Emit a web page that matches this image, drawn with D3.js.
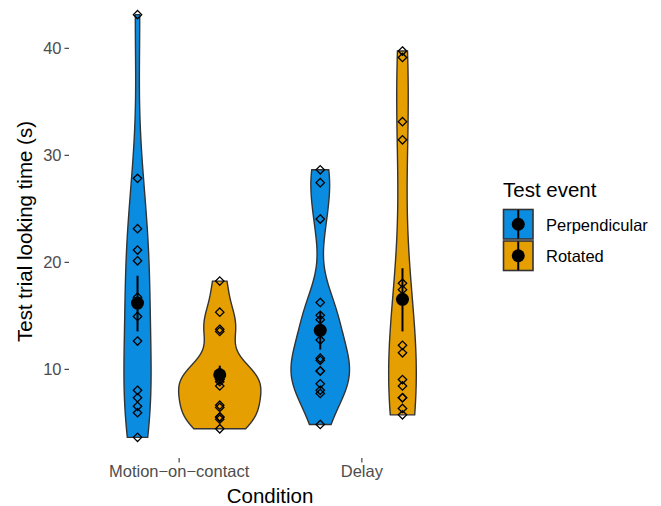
<!DOCTYPE html>
<html>
<head>
<meta charset="utf-8">
<script src="https://cdn.jsdelivr.net/npm/d3@7"></script>
<style>
  body { margin: 0; background: #fff; }
  svg { font-family: "Liberation Sans", Arial, sans-serif; }
</style>
</head>
<body>
<svg id="chart" width="661" height="506"></svg>
<script>
var conditions = ["Motion\u2212on\u2212contact", "Delay"];
var events = ["Perpendicular", "Rotated"];
var colors = ["#0a8ce0", "#e69f00"];

// individual looking times (s) (some points overlap)
var mocPerp = [43.1, 27.8, 23.1, 21.1, 20.1, 16.7, 14.9, 12.6, 8.0, 7.3, 6.5, 5.9, 3.6];
var mocRot = [18.2, 15.3, 13.7, 13.5, 9.7, 9.4, 9.0, 9.0, 8.8, 8.4, 6.6, 6.4, 5.5, 5.5, 5.3, 4.4];
var delayPerp = [28.6, 27.4, 24.0, 16.2, 15.0, 14.6, 12.7, 11.0, 10.8, 9.8, 9.8, 8.6, 8.0, 7.7, 4.8];
var delayRot = [39.7, 39.1, 33.1, 31.4, 18.0, 17.4, 12.2, 11.5, 9.0, 8.4, 7.3, 7.3, 6.3, 5.7];

// mean and standard error bars
var meanVals = [16.15, 9.45, 13.6, 16.5];
var seLow = [13.5, 8.6, 11.8, 13.5];
var seHigh = [18.7, 10.3, 15.35, 19.4];

var groups = [
  {cond: 0, ev: 0, vals: mocPerp},
  {cond: 0, ev: 1, vals: mocRot},
  {cond: 1, ev: 0, vals: delayPerp},
  {cond: 1, ev: 1, vals: delayRot}
];

var svg = d3.select("#chart");
var pLeft = 69, pRight = 471, pTop = 5, pBottom = 458;

var x = d3.scalePoint().domain(conditions).range([pLeft, pRight]).padding(0.6);
var step = x.step();
var y = d3.scaleLinear().domain([1.67, 44.0]).range([pBottom, pTop]);

function groupX(g) {
  return x(conditions[g.cond]) + (g.ev === 0 ? -0.225 : 0.225) * step;
}

// kernel density like R's density(), bw.nrd0
function nrd0(v) {
  var s = v.slice().sort(d3.ascending);
  var sd = d3.deviation(s);
  var iqr = (d3.quantile(s, 0.75) - d3.quantile(s, 0.25)) / 1.34;
  return 0.9 * Math.min(sd, iqr) * Math.pow(s.length, -0.2);
}
groups.forEach(function (g) {
  var bw = nrd0(g.vals);
  var lo = d3.min(g.vals), hi = d3.max(g.vals);
  g.dens = d3.range(512).map(function (i) {
    var t = lo + (hi - lo) * i / 511;
    var d = d3.mean(g.vals, function (v) {
      var u = (t - v) / bw;
      return Math.exp(-0.5 * u * u) / Math.sqrt(2 * Math.PI) / bw;
    });
    return {t: t, d: d};
  });
});
var maxDens = d3.max(groups, function (g) { return d3.max(g.dens, function (p) { return p.d; }); });
var halfW = 0.225 * step;

var line = d3.line().x(function (p) { return p[0]; }).y(function (p) { return p[1]; });

svg.append("g").selectAll("path")
  .data(groups)
  .enter().append("path")
  .attr("d", function (g) {
    var cx = groupX(g);
    var pts = g.dens.map(function (p) { return [cx - p.d / maxDens * halfW, y(p.t)]; });
    var back = g.dens.slice().reverse().map(function (p) { return [cx + p.d / maxDens * halfW, y(p.t)]; });
    return line(pts.concat(back)) + "Z";
  })
  .attr("fill", function (g) { return colors[g.ev]; })
  .attr("stroke", "#333")
  .attr("stroke-width", 1.4);

// individual points (open diamonds)
var pts = [];
groups.forEach(function (g) { g.vals.forEach(function (v) { pts.push({g: g, v: v}); }); });
var dsz = 4.2;
svg.append("g").selectAll("path")
  .data(pts)
  .enter().append("path")
  .attr("d", function (p) {
    var cx = groupX(p.g), cy = y(p.v);
    return "M" + cx + "," + (cy - dsz) + "L" + (cx + dsz) + "," + cy + "L" + cx + "," + (cy + dsz) + "L" + (cx - dsz) + "," + cy + "Z";
  })
  .attr("fill", "none")
  .attr("stroke", "#000")
  .attr("stroke-width", 1.3);

// mean +/- se
var summ = svg.append("g");
summ.selectAll("line")
  .data(groups)
  .enter().append("line")
  .attr("x1", groupX).attr("x2", groupX)
  .attr("y1", function (g, i) { return y(seLow[i]); })
  .attr("y2", function (g, i) { return y(seHigh[i]); })
  .attr("stroke", "#000").attr("stroke-width", 2);
summ.selectAll("circle")
  .data(groups)
  .enter().append("circle")
  .attr("cx", groupX)
  .attr("cy", function (g, i) { return y(meanVals[i]); })
  .attr("r", 6.5)
  .attr("fill", "#000");

// axes
var yAxis = svg.append("g")
  .attr("transform", "translate(" + pLeft + ",0)")
  .call(d3.axisLeft(y).tickValues([10, 20, 30, 40]).tickSize(4.5).tickPadding(3));
var xAxis = svg.append("g")
  .attr("transform", "translate(0," + pBottom + ")")
  .call(d3.axisBottom(x).tickSize(4.5).tickPadding(3));
[yAxis, xAxis].forEach(function (a) {
  a.select(".domain").remove();
  a.selectAll(".tick line").attr("stroke", "#333").attr("stroke-width", 1.1);
  a.selectAll(".tick text").attr("fill", "#4d4d4d").style("font-size", "16.5px")
    .style("font-family", "'Liberation Sans', Arial, sans-serif");
});

svg.append("text")
  .attr("transform", "translate(31.5," + ((pTop + pBottom) / 2) + ") rotate(-90)")
  .attr("text-anchor", "middle")
  .style("font-size", "20.5px")
  .text("Test trial looking time (s)");

svg.append("text")
  .attr("x", (pLeft + pRight) / 2).attr("y", 503)
  .attr("text-anchor", "middle")
  .style("font-size", "20.5px")
  .text("Condition");

// legend
var legend = svg.append("g").attr("transform", "translate(503,0)");
legend.append("text").attr("x", 0).attr("y", 197).style("font-size", "20.5px").text("Test event");
var keys = legend.selectAll("g.key")
  .data(events)
  .enter().append("g")
  .attr("class", "key")
  .attr("transform", function (d, i) { return "translate(0," + (209.5 + i * 31.5) + ")"; });
keys.append("rect")
  .attr("x", 0.5).attr("y", 0)
  .attr("width", 29.5).attr("height", 29.5)
  .attr("fill", function (d, i) { return colors[i]; })
  .attr("stroke", "#333").attr("stroke-width", 1.6);
keys.append("line")
  .attr("x1", 15.25).attr("x2", 15.25).attr("y1", 0.5).attr("y2", 29)
  .attr("stroke", "#000").attr("stroke-width", 2);
keys.append("circle")
  .attr("cx", 15.25).attr("cy", 14.75).attr("r", 6.5).attr("fill", "#000");
keys.append("text")
  .attr("x", 43).attr("y", 21)
  .style("font-size", "16.5px")
  .text(function (d) { return d; });
</script>
</body>
</html>
